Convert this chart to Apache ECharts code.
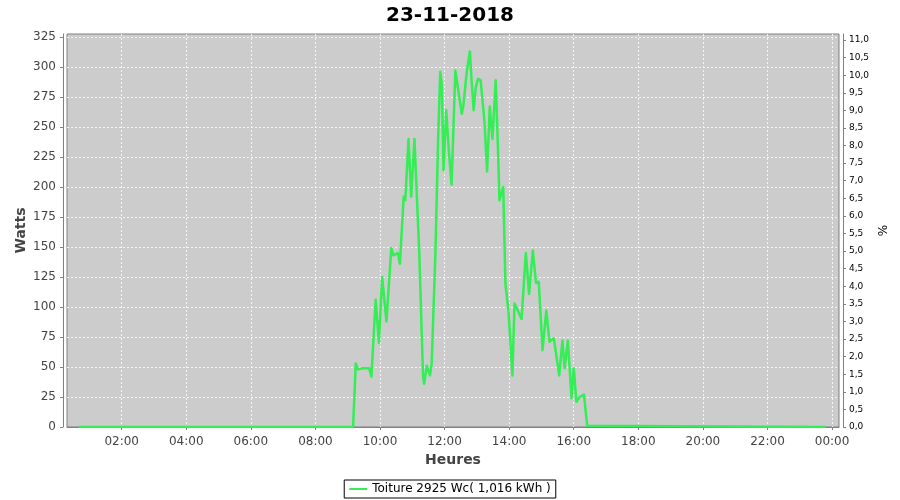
<!DOCTYPE html>
<html>
<head>
<meta charset="utf-8">
<script src="https://cdn.jsdelivr.net/npm/echarts@6/dist/echarts.min.js"></script>
<style>html,body{margin:0;padding:0;background:#fff}#c{width:900px;height:500px}</style>
</head>
<body>
<div id="c"></div>
<script>
var title = "23-11-2018";
var seriesName = "Toiture 2925 Wc( 1,016 kWh )";
var times = ["00:42","09:10","09:15","09:19","09:28","09:40","09:44","09:52","09:58","10:04","10:12","10:21","10:25","10:33","10:37","10:44","10:47","10:53","10:58","11:04","11:13","11:20","11:22","11:27","11:33","11:36","11:43","11:48","11:52","11:55","11:58","12:03","12:08","12:13","12:20","12:24","12:32","12:35","12:41","12:47","12:50","12:54","12:58","13:02","13:07","13:10","13:14","13:19","13:24","13:29","13:35","13:39","13:42","13:49","13:53","13:59","14:06","14:10","14:16","14:23","14:31","14:37","14:44","14:50","14:55","15:02","15:09","15:15","15:23","15:33","15:39","15:43","15:49","15:56","16:00","16:05","16:11","16:19","16:25","16:27","23:46"];
var watts = [0,0,53,48,49,49,42,106,70,125,88,149,143,145,136,192,189,240,192,240,145,42,36,51,43,53,145,240,296,285,214,264,230,202,297,285,261,268,295,313,290,264,283,290,289,290,255,213,267,240,289,235,189,200,120,95,43,103,97,90,145,111,147,120,121,64,97,71,74,43,72,49,72,24,49,21,25,27,1,0,0];
var xTickLabels = ["02:00","04:00","06:00","08:00","10:00","12:00","14:00","16:00","18:00","20:00","22:00","00:00"];
var wattTicks = [0,25,50,75,100,125,150,175,200,225,250,275,300,325];
var pctTicks = [0,0.5,1,1.5,2,2.5,3,3.5,4,4.5,5,5.5,6,6.5,7,7.5,8,8.5,9,9.5,10,10.5,11];

function toMin(s){var p=s.split(":");return (+p[0])*60+(+p[1]);}
var xTickValues = xTickLabels.map(function(s,i){return (i+1)*120;});
var data = times.map(function(t,i){return [toMin(t), watts[i]];});

var chart = echarts.init(document.getElementById('c'));
var font = 'DejaVu Sans';
var gridLine = {show:true, lineStyle:{color:'#f4f4f4', width:1, type:[2,2]}};
chart.setOption({
  animation:false,
  textStyle:{fontFamily:font},
  title:{text:title, left:'center', top:1, textStyle:{fontFamily:font, fontSize:20, fontWeight:'bold', color:'#000'}},
  grid:{left:67, right:61, top:34, bottom:73, show:true, backgroundColor:'#cccccc', borderColor:'#808080', borderWidth:1},
  legend:{bottom:2, left:'center', data:[seriesName], icon:'rect', itemWidth:18, itemHeight:2, itemGap:4,
    borderColor:'#000', borderWidth:1, padding:[3,5,3,5], textStyle:{fontFamily:font, fontSize:12, color:'#000'}},
  xAxis:{type:'value', min:18.4, max:1452.9, offset:4,
    name:'Heures', nameLocation:'middle', nameGap:22, nameMoveOverlap:false, nameTextStyle:{fontFamily:font, fontSize:14, fontWeight:'bold', color:'#444'},
    axisLine:{show:true, lineStyle:{color:'#808080'}},
    axisTick:{show:true, length:3, customValues:xTickValues, lineStyle:{color:'#808080'}},
    axisLabel:{customValues:xTickValues, margin:5, fontFamily:font, fontSize:12, color:'#444',
      formatter:function(v){var i=Math.round(v/120)-1;return xTickLabels[i]||'';}},
    splitLine:gridLine},
  yAxis:[
    {type:'value', min:0, max:327.5, offset:4, position:'left',
     name:'Watts', nameLocation:'middle', nameGap:35, nameRotate:90, nameMoveOverlap:false, nameTextStyle:{fontFamily:font, fontSize:14, fontWeight:'bold', color:'#444'},
     axisLine:{show:true, lineStyle:{color:'#808080'}},
     axisTick:{show:true, length:3, customValues:wattTicks, lineStyle:{color:'#808080'}},
     axisLabel:{customValues:wattTicks, margin:7, fontFamily:font, fontSize:12, color:'#444'},
     splitLine:gridLine},
    {type:'value', min:0, max:11.17, offset:4, position:'right',
     name:'%', nameLocation:'middle', nameGap:35, nameRotate:90, nameMoveOverlap:false, nameTextStyle:{fontFamily:font, fontSize:12, color:'#000'},
     axisLine:{show:true, lineStyle:{color:'#808080'}},
     axisTick:{show:true, length:3, customValues:pctTicks, lineStyle:{color:'#808080'}},
     axisLabel:{customValues:pctTicks, margin:6, fontFamily:font, fontSize:9, color:'#000',
       formatter:function(v){return v.toFixed(1).replace('.',',');}},
     splitLine:{show:false}}
  ],
  series:[{name:seriesName, type:'line', yAxisIndex:0, data:data, showSymbol:false, symbol:'none',
    lineStyle:{color:'#33ee55', width:2.5, join:'round', cap:'round'}, itemStyle:{color:'#33ee55'}}]
});
</script>
</body>
</html>
